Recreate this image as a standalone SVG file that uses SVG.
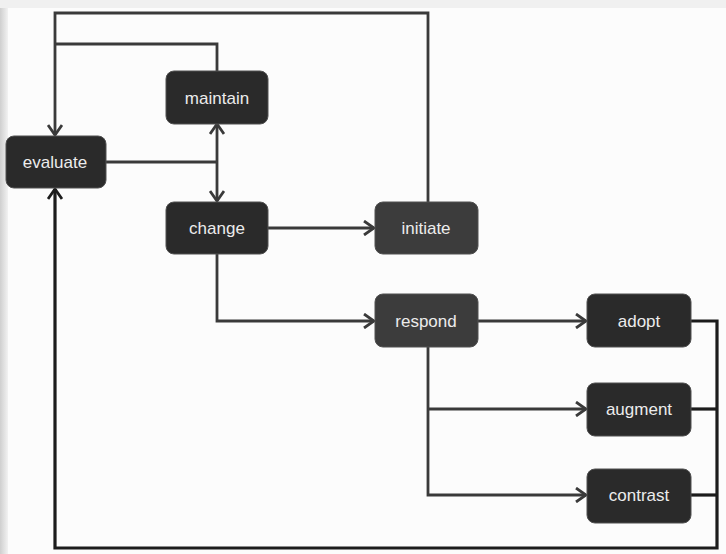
<svg xmlns="http://www.w3.org/2000/svg" width="726" height="554" viewBox="0 0 726 554">
<defs>
<linearGradient id="bgL" x1="0" y1="0" x2="1" y2="0">
<stop offset="0" stop-color="#cfcfcf"/>
<stop offset="1" stop-color="#f2f2f2"/>
</linearGradient>
<marker id="arr" markerUnits="userSpaceOnUse" markerWidth="14" markerHeight="16" viewBox="0 0 14 16" refX="12" refY="8" orient="auto">
<path d="M2,1 L12,8 L2,15" fill="none" stroke="#3a3a3a" stroke-width="2.8"/>
</marker>
<marker id="arrD" markerUnits="userSpaceOnUse" markerWidth="14" markerHeight="16" viewBox="0 0 14 16" refX="12" refY="8" orient="auto">
<path d="M2,1 L12,8 L2,15" fill="none" stroke="#1c1c1c" stroke-width="2.8"/>
</marker>
</defs>
<style>
.node rect{fill:#2a2a2a;stroke:#505050;stroke-width:1}
.node.lt rect{fill:#3c3c3c}
.node text{fill:#ececec;font-family:"Liberation Sans","DejaVu Sans",sans-serif;font-size:17px;text-anchor:middle;dominant-baseline:central}
.c{fill:none;stroke:#3a3a3a;stroke-width:2.8}
.d{fill:none;stroke:#1c1c1c;stroke-width:3.2}
</style>
<rect x="0" y="0" width="726" height="554" fill="#fcfcfc"/>
<rect x="0" y="0" width="8" height="554" fill="url(#bgL)"/>
<rect x="0" y="0" width="726" height="8" fill="#f0f0f0"/>
<g id="connectors">
<polyline class="c" points="428,202 428,13 55,13 55,135" marker-end="url(#arr)"/>
<polyline class="c" points="217,71 217,44 55,44"/>
<polyline class="c" points="106,162 217,162"/>
<line class="c" x1="217" y1="162" x2="217" y2="124" marker-end="url(#arr)"/>
<line class="c" x1="217" y1="162" x2="217" y2="201" marker-end="url(#arr)"/>
<line class="c" x1="268" y1="228" x2="374" y2="228" marker-end="url(#arr)"/>
<polyline class="c" points="217,254 217,321 374,321" marker-end="url(#arr)"/>
<line class="c" x1="478" y1="321" x2="586" y2="321" marker-end="url(#arr)"/>
<polyline class="c" points="428,347 428,495 586,495" marker-end="url(#arr)"/>
<line class="c" x1="428" y1="409" x2="586" y2="409" marker-end="url(#arr)"/>
<polyline class="d" points="691,321 717,321 717,548 55,548 55,189" marker-end="url(#arrD)"/>
<line class="d" x1="690" y1="409" x2="717" y2="409"/>
<line class="d" x1="690" y1="495" x2="717" y2="495"/>
</g>
<g id="evaluate" class="node"><rect x="6" y="136" width="100" height="52" rx="8"/><text x="55" y="162">evaluate</text></g>
<g id="maintain" class="node"><rect x="166" y="71" width="102" height="53" rx="8"/><text x="217" y="98">maintain</text></g>
<g id="change" class="node"><rect x="166" y="202" width="102" height="52" rx="8"/><text x="217" y="228">change</text></g>
<g id="initiate" class="node lt"><rect x="375" y="202" width="103" height="52" rx="8"/><text x="426" y="228">initiate</text></g>
<g id="respond" class="node lt"><rect x="375" y="294" width="103" height="53" rx="8"/><text x="426" y="321">respond</text></g>
<g id="adopt" class="node"><rect x="587" y="294" width="104" height="53" rx="8"/><text x="639" y="321">adopt</text></g>
<g id="augment" class="node"><rect x="587" y="383" width="104" height="53" rx="8"/><text x="639" y="409">augment</text></g>
<g id="contrast" class="node"><rect x="587" y="469" width="104" height="54" rx="8"/><text x="639" y="495">contrast</text></g>
</svg>
